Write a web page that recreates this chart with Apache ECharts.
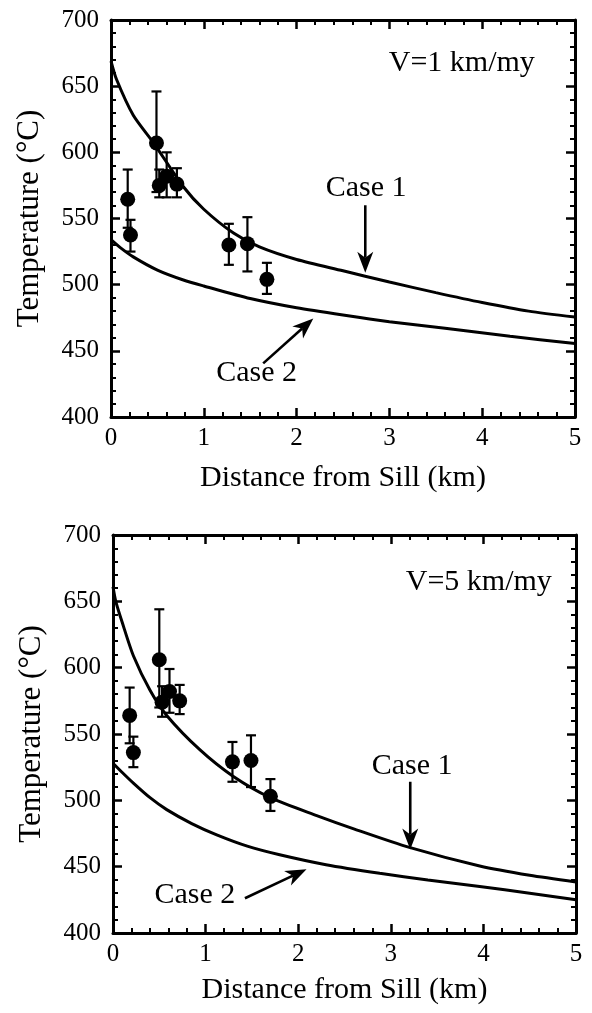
<!DOCTYPE html>
<html>
<head>
<meta charset="utf-8">
<script src="https://cdn.jsdelivr.net/npm/echarts@6/dist/echarts.min.js"></script>
<style>
html,body{margin:0;padding:0;background:#fff;}
#c{width:592px;height:1013px;}
</style>
</head>
<body>
<div id="c"></div>
<script>
// ---- Data ----
// Model curves, V = 1 km/my
const case1V1 = [[0,669],[0.06,655],[0.24,628],[0.46,607],[0.78,574],[1.0,557],[1.32,539],[1.6,528.5],[2.0,519],[2.5,510.5],[3.0,502],[3.5,494],[4.0,486.5],[4.5,480],[5.0,475.5]];
const case2V1 = [[0,534],[0.1,528],[0.24,521],[0.5,511],[0.78,503.5],[1.0,499],[1.5,489.5],[2.0,482.5],[2.5,477],[3.0,472],[3.6,467],[4.3,461],[5.0,455.5]];
// Model curves, V = 5 km/my
const case1V5 = [[0,661],[0.03,650],[0.1,634],[0.22,609],[0.4,583],[0.58,564],[0.94,538],[1.3,518],[1.7,502],[2.2,488.5],[2.6,478.5],[3.2,464.5],[3.96,450.5],[4.5,443.5],[5.0,438.5]];
const case2V5 = [[0,528],[0.1,521],[0.22,513],[0.4,502],[0.58,493],[0.85,482.5],[1.12,474],[1.45,465.5],[1.8,459],[2.3,451.5],[2.88,445],[3.4,440],[3.96,435],[4.5,430],[5.0,425]];
// Measurements: [distance, temperature, low, high]
const obsV1 = [[0.18,564.5,543,587],[0.21,537.5,525,549],[0.49,607,570,646],[0.52,575,566,587],[0.60,582,566,600],[0.71,576,566,588],[1.27,530,515,546],[1.47,531,510,551],[1.68,504,493,516.5]];
const obsV5 = [[0.18,564,543,585],[0.22,536,525,548],[0.50,606,570,644],[0.53,574,563,586],[0.61,582,566,599],[0.72,575,565,587],[1.29,529,514,544],[1.49,530,510,549],[1.70,503,492,516]];
// Annotations: labels [x, y]; arrows [xFrom, yFrom, xTo, yTo]
const labelsV1 = [{t:'V=1 km/my',p:[3.78,667.5]},{t:'Case 1',p:[2.75,573]},{t:'Case 2',p:[1.57,433]}];
const arrowsV1 = [[2.74,560,2.74,509],[1.64,440.5,2.18,474.5]];
const labelsV5 = [{t:'V=5 km/my',p:[3.95,664.6]},{t:'Case 1',p:[3.23,526]},{t:'Case 2',p:[0.885,428.7]}];
const arrowsV5 = [[3.21,514,3.21,463],[1.425,426.2,2.09,448]];
const xTicks = {min:0,max:5,interval:1};
const yTicks = {min:400,max:700,interval:50};
const xTitle = 'Distance from Sill (km)';
const yTitle = 'Temperature (°C)';

const FONT = "'Liberation Serif','DejaVu Serif',serif";
const BLACK = '#000';

function xAxisCfg(grid, pos, showLabel, gap){
  return {
    type:'value', gridIndex:grid, position:pos, min:xTicks.min, max:xTicks.max, interval:xTicks.interval,
    name: showLabel ? xTitle : '', nameLocation:'middle', nameGap:gap,
    nameTextStyle:{fontFamily:FONT,fontSize:30,color:BLACK},
    axisLine:{show:true,onZero:false,lineStyle:{color:BLACK,width:3}},
    axisTick:{show:true,inside:true,length:9,lineStyle:{color:BLACK,width:2.5}},
    minorTick:{show:true,splitNumber:5,length:5,lineStyle:{color:BLACK,width:2}},
    splitLine:{show:false}, minorSplitLine:{show:false},
    axisLabel:{show:showLabel,fontFamily:FONT,fontSize:25,color:BLACK,margin:9}
  };
}
function yAxisCfg(grid, pos, showLabel){
  return {
    type:'value', gridIndex:grid, position:pos, min:yTicks.min, max:yTicks.max, interval:yTicks.interval,
    name: showLabel ? yTitle : '', nameLocation:'middle', nameGap:66, nameRotate:90,
    nameTextStyle:{fontFamily:FONT,fontSize:31,color:BLACK},
    axisLine:{show:true,onZero:false,lineStyle:{color:BLACK,width:3}},
    axisTick:{show:true,inside:true,length:9,lineStyle:{color:BLACK,width:2.5}},
    minorTick:{show:true,splitNumber:5,length:5,lineStyle:{color:BLACK,width:2}},
    splitLine:{show:false}, minorSplitLine:{show:false},
    axisLabel:{show:showLabel,fontFamily:FONT,fontSize:25,color:BLACK,margin:12}
  };
}

function errRender(params, api){
  const x = api.value(0), lo = api.value(2), hi = api.value(3);
  const a = api.coord([x,lo]), b = api.coord([x,hi]);
  const w = 5;
  const st = {stroke:BLACK,lineWidth:2.2};
  return {type:'group',children:[
    {type:'line',shape:{x1:a[0],y1:a[1],x2:b[0],y2:b[1]},style:st},
    {type:'line',shape:{x1:a[0]-w,y1:a[1],x2:a[0]+w,y2:a[1]},style:st},
    {type:'line',shape:{x1:b[0]-w,y1:b[1],x2:b[0]+w,y2:b[1]},style:st}
  ]};
}

function arrowRender(params, api){
  const p1 = api.coord([api.value(0),api.value(1)]);
  const p2 = api.coord([api.value(2),api.value(3)]);
  const dx = p2[0]-p1[0], dy = p2[1]-p1[1], len = Math.hypot(dx,dy);
  const ux = dx/len, uy = dy/len, nx = -uy, ny = ux;
  const H = 21, W = 8, N = 6;
  const bx = p2[0]-ux*H, by = p2[1]-uy*H;
  const nxp = p2[0]-ux*(H-N), nyp = p2[1]-uy*(H-N);
  return {type:'group',children:[
    {type:'line',shape:{x1:p1[0],y1:p1[1],x2:nxp,y2:nyp},style:{stroke:BLACK,lineWidth:2.6}},
    {type:'polygon',shape:{points:[[p2[0],p2[1]],[bx+nx*W,by+ny*W],[nxp,nyp],[bx-nx*W,by-ny*W]]},style:{fill:BLACK}}
  ]};
}

function panelSeries(i, c1, c2, obs, labels, arrows){
  const line = (d)=>({type:'line',xAxisIndex:2*i,yAxisIndex:2*i,data:d,smooth:0.25,
    showSymbol:false,symbol:'none',lineStyle:{color:BLACK,width:3},silent:true,z:3});
  return [
    line(c1), line(c2),
    {type:'custom',xAxisIndex:2*i,yAxisIndex:2*i,renderItem:errRender,encode:{x:0,y:[1,2,3]},data:obs,z:4,silent:true},
    {type:'scatter',xAxisIndex:2*i,yAxisIndex:2*i,data:obs.map(o=>[o[0],o[1]]),symbol:'circle',symbolSize:15,
      itemStyle:{color:BLACK,opacity:1},z:5,silent:true},
    {type:'custom',xAxisIndex:2*i,yAxisIndex:2*i,renderItem:arrowRender,encode:{x:[0,2],y:[1,3]},data:arrows,z:6,silent:true},
    {type:'scatter',xAxisIndex:2*i,yAxisIndex:2*i,symbolSize:1,itemStyle:{color:'rgba(0,0,0,0)',opacity:1},silent:true,
      data:labels.map(l=>({value:l.p,label:{show:true,position:'inside',formatter:l.t,fontFamily:FONT,fontSize:30,color:BLACK,opacity:1}})),
      z:6}
  ];
}

const chart = echarts.init(document.getElementById('c'), null, {renderer:'canvas'});
chart.setOption({
  animation:false,
  backgroundColor:'#fff',
  grid:[
    {left:111,top:20,width:464,height:397},
    {left:113,top:535,width:463,height:398}
  ],
  xAxis:[xAxisCfg(0,'bottom',true,46), xAxisCfg(0,'top',false,0), xAxisCfg(1,'bottom',true,42), xAxisCfg(1,'top',false,0)],
  yAxis:[yAxisCfg(0,'left',true), yAxisCfg(0,'right',false), yAxisCfg(1,'left',true), yAxisCfg(1,'right',false)],
  series:[].concat(
    panelSeries(0, case1V1, case2V1, obsV1, labelsV1, arrowsV1),
    panelSeries(1, case1V5, case2V5, obsV5, labelsV5, arrowsV5)
  )
});
</script>
</body>
</html>
